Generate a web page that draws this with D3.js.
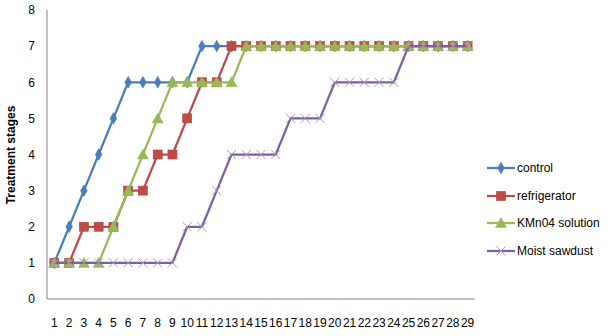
<!DOCTYPE html>
<html><head><meta charset="utf-8">
<script src="https://cdn.jsdelivr.net/npm/d3@7"></script>
<style>body{margin:0;background:#fff}svg{display:block}text{font-family:"Liberation Sans",Arial,sans-serif}</style>
</head><body><svg id="c" width="608" height="336"></svg>
<script>
const categories = d3.range(1, 30).map(String);
const seriesNames = ["control", "refrigerator", "KMn04 solution", "Moist sawdust"];
const control      = [1,2,3,4,5,6,6,6,6,6,7,7,7,7,7,7,7,7,7,7,7,7,7,7,7,7,7,7,7];
const refrigerator = [1,1,2,2,2,3,3,4,4,5,6,6,7,7,7,7,7,7,7,7,7,7,7,7,7,7,7,7,7];
const kmno4        = [1,1,1,1,2,3,4,5,6,6,6,6,6,7,7,7,7,7,7,7,7,7,7,7,7,7,7,7,7];
const sawdust      = [1,1,1,1,1,1,1,1,1,2,2,3,4,4,4,4,5,5,5,6,6,6,6,6,7,7,7,7,7];
const yTicks = [0,1,2,3,4,5,6,7,8];
const yTitle = "Treatment stages";

const svg = d3.select("#c");
const pL = 47, pR = 475, pT = 10, pB = 299;
const x = d3.scaleBand().domain(categories).range([pL, pR]);
const y = d3.scaleLinear().domain([0, 8]).range([pB, pT]);

svg.append("line").attr("x1", pL).attr("x2", pL).attr("y1", pT).attr("y2", pB).attr("stroke", "#868686");
svg.append("line").attr("x1", pL).attr("x2", pR).attr("y1", pB).attr("y2", pB).attr("stroke", "#868686");

const yAxis = d3.axisLeft(y).tickValues(yTicks).tickSize(0).tickPadding(12);
const gy = svg.append("g").attr("transform", `translate(${pL},0)`).call(yAxis);
gy.select(".domain").remove();
gy.selectAll("text").attr("font-size", 12).attr("fill", "#000").style("font-family", "'Liberation Sans',Arial,sans-serif");

const xAxis = d3.axisBottom(x).tickSize(0).tickPadding(19);
const gx = svg.append("g").attr("transform", `translate(0,${pB})`).call(xAxis);
gx.select(".domain").remove();
gx.selectAll("text").attr("font-size", 12).attr("fill", "#000").style("font-family", "'Liberation Sans',Arial,sans-serif");

svg.append("text").attr("transform", "translate(15,155) rotate(-90)")
  .attr("text-anchor", "middle").attr("font-size", 12).attr("font-weight", "bold").text(yTitle);

const colors = ["#4A7EBB", "#BE4B48", "#98B954", "#7D60A0"];
const data = [control, refrigerator, kmno4, sawdust];
const markerTypes = ["diamond", "square", "triangle", "cross"];
const cx = i => x(categories[i]) + x.bandwidth() / 2;

function drawMarker(g, type, px, py, color) {
  if (type === "diamond") {
    g.append("path").attr("d", d3.symbol(d3.symbolDiamond, 40)()).attr("transform", `translate(${px},${py})`).attr("fill", color).attr("stroke", color).attr("stroke-width", 0.5);
  } else if (type === "square") {
    g.append("rect").attr("x", px - 4.5).attr("y", py - 4.5).attr("width", 9).attr("height", 9).attr("fill", color).attr("stroke", "#b0403d").attr("stroke-width", 0.6);
  } else if (type === "triangle") {
    g.append("path").attr("d", `M${px},${py-5.5}L${px+5.5},${py+4.5}L${px-5.5},${py+4.5}Z`).attr("fill", color).attr("stroke", color).attr("stroke-width", 0.5);
  } else {
    const s = 4.5;
    g.append("path").attr("d", `M${px-s},${py-s}L${px+s},${py+s}M${px-s},${py+s}L${px+s},${py-s}`).attr("stroke", "#a899c2").attr("stroke-width", 1).attr("fill", "none");
  }
}

const line = d3.line().x((d, i) => cx(i)).y(d => y(d));
data.forEach((vals, k) => {
  const g = svg.append("g");
  g.append("path").datum(vals).attr("d", line).attr("fill", "none").attr("stroke", colors[k]).attr("stroke-width", 2.25).attr("stroke-linejoin", "round");
  vals.forEach((v, i) => drawMarker(g, markerTypes[k], cx(i), y(v), colors[k]));
});

const legY = [168, 196, 223, 251];
seriesNames.forEach((name, k) => {
  const g = svg.append("g");
  g.append("line").attr("x1", 487).attr("x2", 515).attr("y1", legY[k]).attr("y2", legY[k]).attr("stroke", colors[k]).attr("stroke-width", 2.25);
  drawMarker(g, markerTypes[k], 501, legY[k], colors[k]);
  g.append("text").attr("x", 517).attr("y", legY[k]).attr("dy", "0.35em").attr("font-size", 12).text(name);
});
</script></body></html>
